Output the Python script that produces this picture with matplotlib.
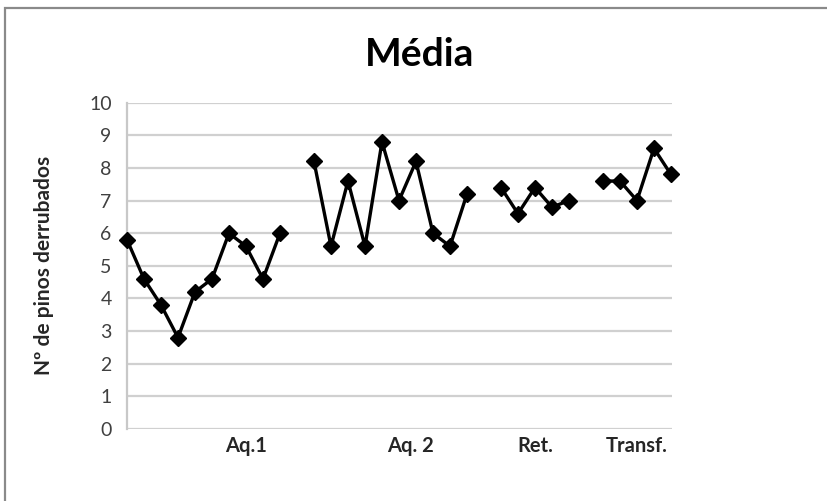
import numpy as np
import matplotlib.pyplot as plt
from matplotlib.patches import Rectangle

# mean knocked-down pins per session, grouped by phase
aq1 = [5.8, 4.6, 3.8, 2.8, 4.2, 4.6, 6.0, 5.6, 4.6, 6.0]
aq2 = [8.2, 5.6, 7.6, 5.6, 8.8, 7.0, 8.2, 6.0, 5.6, 7.2]
ret = [7.4, 6.6, 7.4, 6.8, 7.0]
transf = [7.6, 7.6, 7.0, 8.6, 7.8]

group_labels = ["Aq.1", "Aq. 2", "Ret.", "Transf."]
label_pos = [7, 16.7, 24, 30]
y_ticks = list(range(0, 11))

plt.rcParams['font.family'] = ['Lato', 'DejaVu Sans']

# one empty category between groups breaks the line
values = aq1 + [np.nan] + aq2 + [np.nan] + ret + [np.nan] + transf
x = np.arange(len(values))

fig = plt.figure(figsize=(8.28, 5.01), dpi=100)
ax = fig.add_axes([127 / 828, 72 / 501, 545 / 828, 326.3 / 501])

ax.plot(x, values, color='black', lw=2.4, marker='D', markersize=8,
        markerfacecolor='black', markeredgecolor='black', zorder=3,
        clip_on=False)

ax.set_xlim(0, 32.06)
ax.set_ylim(0, 10)
ax.set_yticks(y_ticks)
ax.set_xticks(label_pos)
ax.set_xticklabels(group_labels, fontsize=14.5, fontweight='bold', color='#262626')
ax.tick_params(axis='y', length=0, pad=11, labelsize=14, labelcolor='#404040')
ax.tick_params(axis='x', length=0, pad=5)
ax.grid(axis='y', color='#d0d0d0', lw=1.6)
ax.set_axisbelow(True)

for side in ['top', 'right', 'bottom']:
    ax.spines[side].set_visible(False)
ax.spines['left'].set_color('#c8c8c8')
ax.spines['left'].set_linewidth(1.6)

ax.set_ylabel('Nº de pinos derrubados', fontsize=15, fontweight='bold',
              color='#262626')
ax.yaxis.set_label_coords(-(127 - 54) / 545, 0.5)

fig.text(420 / 828, 1 - 54 / 501, 'Média', ha='center', va='center',
         fontsize=28, fontweight='bold')

# chart frame
fig.patches.append(Rectangle((5 / 828, -0.1), 1.2, (1 - 8 / 501) + 0.1,
                             transform=fig.transFigure, fill=False,
                             edgecolor='#8a8a8a', lw=1.6))

fig.savefig('out.png', dpi=100)
